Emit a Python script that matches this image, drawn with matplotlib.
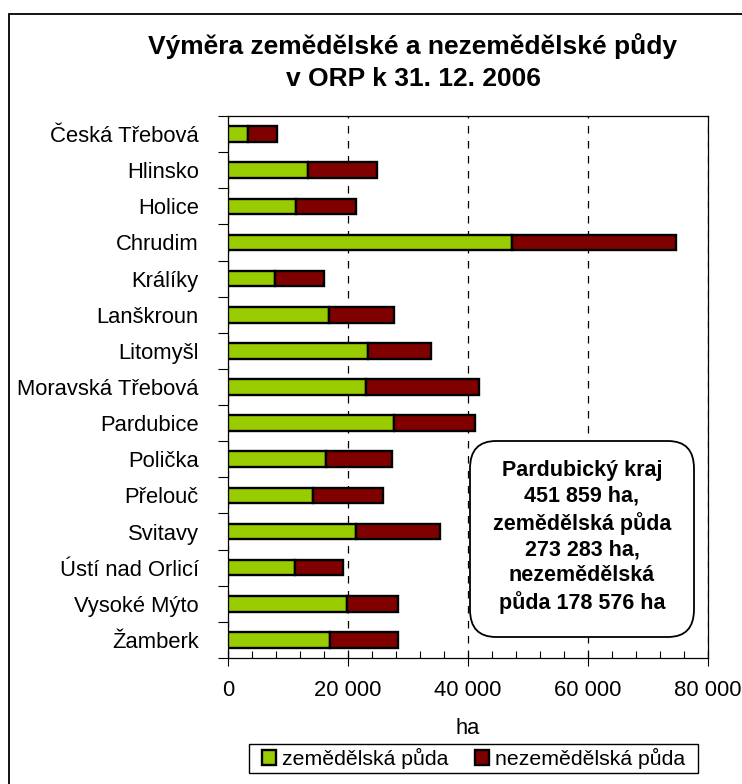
import matplotlib
matplotlib.use("Agg")
import matplotlib.pyplot as plt
from matplotlib.patches import FancyBboxPatch, Rectangle
from matplotlib.ticker import FuncFormatter, MultipleLocator

plt.rcParams["font.family"] = ["Liberation Sans", "DejaVu Sans"]

orp = ["Česká Třebová", "Hlinsko", "Holice", "Chrudim", "Králíky", "Lanškroun",
       "Litomyšl", "Moravská Třebová", "Pardubice", "Polička", "Přelouč",
       "Svitavy", "Ústí nad Orlicí", "Vysoké Mýto", "Žamberk"]
zemedelska = [3400, 13400, 11400, 47400, 7800, 16800, 23400, 23000, 27600,
              16300, 14100, 21300, 11200, 19900, 17000]
nezemedelska = [4700, 11400, 10000, 27300, 8200, 10900, 10400, 18800, 13500,
                11100, 11800, 14000, 8000, 8400, 11300]

green = "#99cc00"
red = "#800000"

fig = plt.figure(figsize=(7.42, 7.84), dpi=100)
fig.patches.append(Rectangle((9 / 742, -0.1), 1.2, 1 - 14 / 784 + 0.1,
                             transform=fig.transFigure, fill=False,
                             edgecolor="black", linewidth=1.3))

ax = fig.add_axes([228 / 742, 1 - 658 / 784, 480 / 742, 542 / 784])
y = list(range(len(orp)))
ax.barh(y, zemedelska, height=0.43, color=green, edgecolor="black",
        linewidth=1.7, label="zemědělská půda", zorder=3)
ax.barh(y, nezemedelska, left=zemedelska, height=0.43, color=red,
        edgecolor="black", linewidth=1.7, label="nezemědělská půda", zorder=3)

ax.set_xlim(0, 80000)
ax.set_ylim(len(orp) - 0.5, -0.5)
ax.set_yticks(y)
ax.set_yticklabels(orp, fontsize=15.8)
ax.tick_params(axis="y", length=0, pad=21)
# oddělovací značky mezi kategoriemi
ax.set_yticks([i + 0.5 for i in range(-1, len(orp))], minor=True)
ax.tick_params(axis="y", which="minor", length=7, direction="out", width=0.8)

ax.xaxis.set_major_locator(MultipleLocator(20000))
ax.xaxis.set_minor_locator(MultipleLocator(4000))
ax.xaxis.set_major_formatter(FuncFormatter(lambda v, p: f"{int(v):,}".replace(",", " ")))
ax.tick_params(axis="x", which="major", direction="inout", length=12, width=0.8,
               labelsize=15.8, pad=10)
ax.tick_params(axis="x", which="minor", direction="in", length=5, width=0.8)
ax.xaxis.grid(True, which="major", linestyle=(0, (6, 6)), color="black",
              linewidth=0.9)
ax.set_axisbelow(True)
for s in ax.spines.values():
    s.set_linewidth(0.9)
ax.set_xlabel("ha", fontsize=15.8, labelpad=12)

fig.text(413 / 742, 1 - 62 / 784,
         "Výměra zemědělské a nezemědělské půdy\nv ORP k 31. 12. 2006",
         ha="center", va="center", fontsize=19, fontweight="bold",
         linespacing=1.42)

box = FancyBboxPatch((470 / 742, 1 - 637 / 784), 224 / 742, 196 / 784,
                     boxstyle="round,pad=0,rounding_size=0.035",
                     transform=fig.transFigure, facecolor="white",
                     edgecolor="black", linewidth=1.3, zorder=5)
fig.patches.append(box)
fig.text(582 / 742, 1 - 537 / 784,
         "Pardubický kraj\n451 859 ha,\nzemědělská půda\n273 283 ha,\nnezemědělská\npůda 178 576 ha",
         ha="center", va="center", fontsize=15.5, fontweight="bold",
         linespacing=1.28, zorder=6)

# rámeček legendy
fig.patches.append(Rectangle((249 / 742, 1 - 773 / 784), 449 / 742, 29 / 784,
                             transform=fig.transFigure, fill=False,
                             edgecolor="black", linewidth=1.0))
fig.legend(loc="center", bbox_to_anchor=(473.5 / 742, 1 - 758.5 / 784),
           ncol=2, fontsize=15.3, frameon=False,
           handlelength=0.65, handleheight=0.65,
           handletextpad=0.28, columnspacing=1.25, borderpad=0.2)

fig.savefig("out.png", dpi=100)
